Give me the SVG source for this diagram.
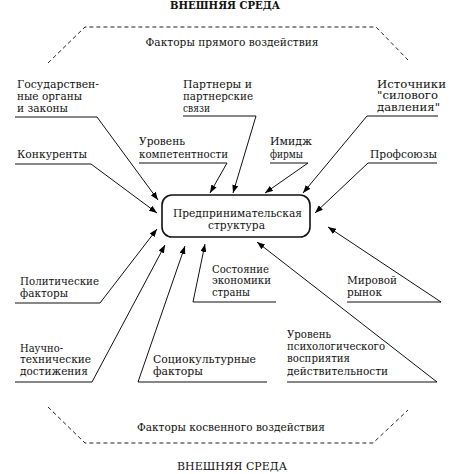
<svg xmlns="http://www.w3.org/2000/svg" width="464" height="474" viewBox="0 0 464 474">
<defs>
<marker id="ah" markerUnits="userSpaceOnUse" markerWidth="9" markerHeight="6" refX="8" refY="3" orient="auto">
<path d="M0,0 L8,3 L0,6 z" fill="#000"/>
</marker>
</defs>
<style>
text{font-family:"DejaVu Serif","Liberation Serif",serif;font-size:11.5px;fill:#111}
.t{font-size:10.5px}
.ul{stroke:#111;stroke-width:1.2;fill:none}
.c{stroke:#111;stroke-width:1;fill:none;marker-end:url(#ah)}
.d{stroke:#222;stroke-width:1;fill:none;stroke-dasharray:4 3}
</style>
<rect width="464" height="474" fill="#fff"/>
<g id="env-top">
<text x="225" y="8.5" text-anchor="middle" textLength="110" lengthAdjust="spacingAndGlyphs" font-weight="bold" class="t">ВНЕШНЯЯ СРЕДА</text>
</g>
<g id="direct">
<polyline class="d" points="48,63 85,27 376,27 408,60"/>
<text x="232" y="46" text-anchor="middle" textLength="173" lengthAdjust="spacingAndGlyphs">Факторы прямого воздействия</text>
</g>
<g id="indirect">
<polyline class="d" points="48,407 85,443 373,443 408,410"/>
<text x="231" y="431" text-anchor="middle" textLength="188" lengthAdjust="spacingAndGlyphs">Факторы косвенного воздействия</text>
</g>
<g id="env-bottom">
<text x="232" y="470" text-anchor="middle" textLength="110" lengthAdjust="spacingAndGlyphs">ВНЕШНЯЯ СРЕДА</text>
</g>
<g id="center">
<rect x="162" y="195" width="148" height="42" rx="10" fill="none" stroke="#111" stroke-width="1.6"/>
<text x="173" y="216.5" textLength="129" lengthAdjust="spacingAndGlyphs">Предпринимательская</text>
<text x="208" y="228.5" textLength="57" lengthAdjust="spacingAndGlyphs">структура</text>
</g>
<g id="gov">
<text x="17" y="88" textLength="82" lengthAdjust="spacingAndGlyphs">Государствен-</text>
<text x="17" y="100" textLength="65" lengthAdjust="spacingAndGlyphs">ные органы</text>
<text x="17" y="112" textLength="51" lengthAdjust="spacingAndGlyphs">и законы</text>
<line class="ul" x1="15" y1="117" x2="97" y2="117"/>
</g>
<g id="competitors">
<text x="17" y="157.5" textLength="70" lengthAdjust="spacingAndGlyphs">Конкуренты</text>
<line class="ul" x1="15" y1="164" x2="91" y2="164"/>
</g>
<g id="partners">
<text x="183" y="88" textLength="69" lengthAdjust="spacingAndGlyphs">Партнеры и</text>
<text x="183" y="100" textLength="70" lengthAdjust="spacingAndGlyphs">партнерские</text>
<text x="183" y="112" textLength="27" lengthAdjust="spacingAndGlyphs">связи</text>
<line class="ul" x1="183" y1="116" x2="256" y2="116"/>
</g>
<g id="competence">
<text x="139" y="145" textLength="46" lengthAdjust="spacingAndGlyphs">Уровень</text>
<text x="139" y="157.5" textLength="89" lengthAdjust="spacingAndGlyphs">компетентности</text>
<line class="ul" x1="139" y1="163" x2="227" y2="163"/>
</g>
<g id="image">
<text x="270" y="145" textLength="42" lengthAdjust="spacingAndGlyphs">Имидж</text>
<text x="270" y="157.5" textLength="33" lengthAdjust="spacingAndGlyphs">фирмы</text>
<line class="ul" x1="270" y1="163" x2="308" y2="163"/>
</g>
<g id="pressure">
<text x="377" y="87.5" textLength="69" lengthAdjust="spacingAndGlyphs">Источники</text>
<text x="377" y="99" textLength="61" lengthAdjust="spacingAndGlyphs">"силового</text>
<text x="377" y="110.5" textLength="63" lengthAdjust="spacingAndGlyphs">давления"</text>
<line class="ul" x1="367" y1="116" x2="438" y2="116"/>
</g>
<g id="unions">
<text x="370" y="158" textLength="67" lengthAdjust="spacingAndGlyphs">Профсоюзы</text>
<line class="ul" x1="368" y1="163" x2="437" y2="163"/>
</g>
<g id="political">
<text x="20" y="285" textLength="79" lengthAdjust="spacingAndGlyphs">Политические</text>
<text x="20" y="297" textLength="48" lengthAdjust="spacingAndGlyphs">факторы</text>
<line class="ul" x1="15" y1="303" x2="100" y2="303"/>
</g>
<g id="science">
<text x="20" y="351.5" textLength="43" lengthAdjust="spacingAndGlyphs">Научно-</text>
<text x="20" y="363" textLength="71" lengthAdjust="spacingAndGlyphs">технические</text>
<text x="20" y="375" textLength="68" lengthAdjust="spacingAndGlyphs">достижения</text>
<line class="ul" x1="15" y1="382" x2="92" y2="382"/>
</g>
<g id="sociocultural">
<text x="153" y="362.5" textLength="103" lengthAdjust="spacingAndGlyphs">Социокультурные</text>
<text x="153" y="375" textLength="50" lengthAdjust="spacingAndGlyphs">факторы</text>
<line class="ul" x1="138" y1="382" x2="267" y2="382"/>
</g>
<g id="economy">
<text x="212" y="272.5" textLength="57" lengthAdjust="spacingAndGlyphs">Состояние</text>
<text x="212" y="284" textLength="59" lengthAdjust="spacingAndGlyphs">экономики</text>
<text x="212" y="295.5" textLength="38" lengthAdjust="spacingAndGlyphs">страны</text>
<line class="ul" x1="193" y1="302" x2="276" y2="302"/>
</g>
<g id="market">
<text x="347" y="284" textLength="50" lengthAdjust="spacingAndGlyphs">Мировой</text>
<text x="347" y="296" textLength="35" lengthAdjust="spacingAndGlyphs">рынок</text>
<line class="ul" x1="347" y1="302" x2="441" y2="302"/>
</g>
<g id="psychology">
<text x="287" y="338" textLength="44" lengthAdjust="spacingAndGlyphs">Уровень</text>
<text x="287" y="350" textLength="98" lengthAdjust="spacingAndGlyphs">психологического</text>
<text x="287" y="362" textLength="63" lengthAdjust="spacingAndGlyphs">восприятия</text>
<text x="287" y="374.5" textLength="101" lengthAdjust="spacingAndGlyphs">действительности</text>
<line class="ul" x1="287" y1="382" x2="437" y2="382"/>
</g>
<g id="connectors">
<line class="c" x1="97" y1="117" x2="158" y2="200"/>
<line class="c" x1="91" y1="164" x2="157" y2="213"/>
<line class="c" x1="256" y1="116" x2="233" y2="193"/>
<line class="c" x1="227" y1="163" x2="210" y2="193"/>
<line class="c" x1="308" y1="163" x2="265" y2="193"/>
<line class="c" x1="367" y1="116" x2="303" y2="193"/>
<line class="c" x1="368" y1="163" x2="315" y2="213"/>
<line class="c" x1="100" y1="303" x2="157" y2="229"/>
<line class="c" x1="92" y1="382" x2="165" y2="245"/>
<line class="c" x1="138" y1="382" x2="185" y2="246"/>
<line class="c" x1="193" y1="302" x2="205" y2="244"/>
<line class="c" x1="441" y1="302" x2="328" y2="227"/>
<line class="c" x1="437" y1="382" x2="257" y2="242"/>
</g>
</svg>
